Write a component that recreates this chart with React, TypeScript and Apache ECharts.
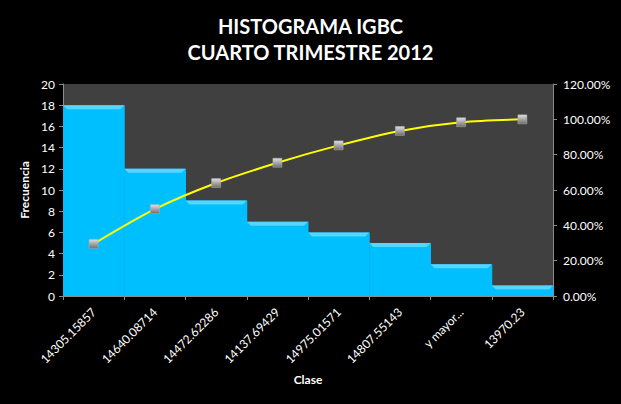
import React, { useEffect, useRef } from "react";
import * as echarts from "echarts";

const categories = [
  "14305.15857",
  "14640.08714",
  "14472.62286",
  "14137.69429",
  "14975.01571",
  "14807.55143",
  "y mayor...",
  "13970.23",
];
const frecuencia = [18, 12, 9, 7, 6, 5, 3, 1];
const acumulado = [0.2951, 0.4918, 0.6393, 0.7541, 0.8525, 0.9344, 0.9836, 1.0];
const leftTicks = { min: 0, max: 20, interval: 2 };
const rightTicks = { min: 0, max: 1.2, interval: 0.2 };

const FONT = "Lato";

export default function App() {
  const ref = useRef<HTMLDivElement>(null);
  useEffect(() => {
    if (!ref.current) return;
    const chart = echarts.init(ref.current, null, { renderer: "svg" });
    chart.setOption({
      animation: false,
      backgroundColor: "#000000",
      textStyle: { fontFamily: FONT },
      title: {
        text: "HISTOGRAMA IGBC\nCUARTO TRIMESTRE 2012",
        left: "center",
        top: 8,
        textStyle: {
          color: "#ffffff",
          fontSize: 20,
          fontWeight: "bold",
          lineHeight: 26,
          fontFamily: FONT,
        },
      },
      grid: {
        left: 63,
        right: 68,
        top: 84,
        bottom: 108,
        show: true,
        backgroundColor: "#404040",
        borderWidth: 0,
      },
      xAxis: {
        type: "category",
        data: categories,
        name: "Clase",
        nameLocation: "middle",
        nameGap: 77,
        nameTextStyle: { color: "#ffffff", fontWeight: "bold", fontSize: 12, fontFamily: FONT },
        axisLine: { show: true, lineStyle: { color: "#8c8c8c", width: 1 } },
        axisTick: { show: true, length: 4, lineStyle: { color: "#8c8c8c" } },
        axisLabel: { color: "#ffffff", rotate: 45, fontSize: 12, margin: 14, fontFamily: FONT },
        splitLine: { show: false },
      },
      yAxis: [
        {
          type: "value",
          ...leftTicks,
          name: "Frecuencia",
          nameLocation: "middle",
          nameRotate: 90,
          nameGap: 23,
          nameTextStyle: { color: "#ffffff", fontWeight: "bold", fontSize: 12, fontFamily: FONT },
          axisLine: { show: true, lineStyle: { color: "#8c8c8c" } },
          axisTick: { show: true, length: 4, lineStyle: { color: "#8c8c8c" } },
          axisLabel: { color: "#ffffff", fontSize: 12, margin: 8, fontFamily: FONT },
          splitLine: { show: false },
        },
        {
          type: "value",
          ...rightTicks,
          position: "right",
          axisLine: { show: true, lineStyle: { color: "#8c8c8c" } },
          axisTick: { show: true, length: 4, lineStyle: { color: "#8c8c8c" } },
          axisLabel: {
            color: "#ffffff",
            fontSize: 12,
            margin: 10,
            fontFamily: FONT,
            formatter: (v: number) => (v * 100).toFixed(2) + "%",
          },
          splitLine: { show: false },
        },
      ],
      series: [
        {
          type: "custom",
          name: "Frecuencia",
          yAxisIndex: 0,
          data: frecuencia.map((v, i) => [i, v]),
          renderItem: (params: any, api: any) => {
            const idx = api.value(0);
            const val = api.value(1);
            const top = api.coord([idx, val]);
            const bottom = api.coord([idx, 0]);
            const w = api.size([1, 0])[0];
            const x0 = top[0] - w / 2;
            const x1 = top[0] + w / 2;
            const b = 4;
            return {
              type: "group",
              children: [
                {
                  type: "rect",
                  shape: { x: x0, y: top[1], width: w + 0.5, height: bottom[1] - top[1] },
                  style: { fill: "#00BFFF" },
                },
                {
                  type: "polygon",
                  shape: {
                    points: [
                      [x0, top[1]],
                      [x1, top[1]],
                      [x1 - b, top[1] + b],
                      [x0 + b, top[1] + b],
                    ],
                  },
                  style: { fill: "#55D6FF" },
                },
              ],
            };
          },
          z: 2,
        },
        {
          type: "line",
          name: "% acumulado",
          yAxisIndex: 1,
          data: acumulado,
          smooth: 0.3,
          symbol: "rect",
          symbolSize: 9,
          lineStyle: { color: "#FFFF00", width: 2 },
          itemStyle: {
            color: new echarts.graphic.LinearGradient(0, 0, 0, 1, [
              { offset: 0, color: "#e0e0e0" },
              { offset: 1, color: "#6e6e6e" },
            ]),
            borderColor: "#b0b0b0",
            borderWidth: 0.5,
          },
          z: 3,
        },
      ],
    });
    return () => chart.dispose();
  }, []);
  return (
    <div
      ref={ref}
      style={{ position: "fixed", left: 0, top: 0, width: 621, height: 404 }}
    />
  );
}
